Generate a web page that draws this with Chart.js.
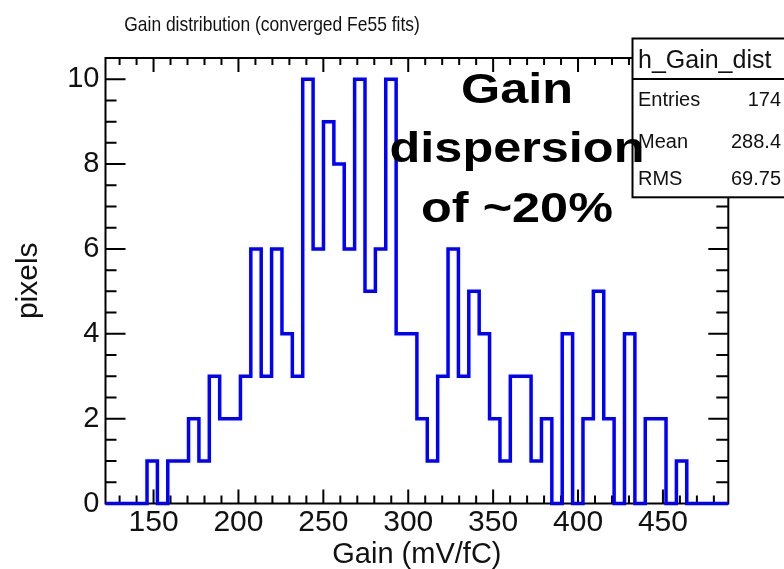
<!DOCTYPE html>
<html>
<head>
<meta charset="utf-8">
<script src="https://cdn.jsdelivr.net/npm/chart.js@4.4.0/dist/chart.umd.min.js"></script>
<style>
  html, body { margin: 0; padding: 0; background: #fff; }
  canvas { display: block; }
</style>
</head>
<body>
<canvas id="gainChart" width="784" height="569"></canvas>
<script>
// histogram h_Gain_dist, 60 bins
const xMin = 121.7;
const xMax = 488.5;
const binCounts = [
    0, 0, 0, 0, 1, 0, 1, 1, 2, 1,
    3, 2, 2, 3, 6, 3, 6, 4, 3, 10,
    6, 9, 8, 6, 10, 5, 6, 10, 4, 4,
    2, 1, 3, 6, 3, 5, 4, 2, 1, 3,
    3, 1, 2, 0, 4, 0, 2, 5, 2, 0,
    4, 0, 2, 2, 0, 1, 0, 0, 0, 0
];
const yMax = 10.5;
const xTickValues = [150, 200, 250, 300, 350, 400, 450];
const yTickValues = [0, 2, 4, 6, 8, 10];
const xMinorStep = 10;
const yMinorStep = 0.5;

const chartTitle = 'Gain distribution (converged Fe55 fits)';
const statsName = 'h_Gain_dist';
const statsLabels = ['Entries', 'Mean', 'RMS'];
const statsValues = ['174', '288.4', '69.75'];
const noteLines = ['Gain', 'dispersion', 'of ~20%'];

const binWidth = (xMax - xMin) / binCounts.length;
const histPoints = binCounts.map((c, i) => ({ x: xMin + i * binWidth, y: c }));
histPoints.push({ x: xMax, y: binCounts[binCounts.length - 1] });

const FONT = "'Liberation Sans', Arial, sans-serif";

// ROOT-like frame with inward ticks on all four sides
const rootFrame = {
    id: 'rootFrame',
    beforeDatasetsDraw(chart) {
        const { ctx, chartArea: a, scales: { x, y } } = chart;
        ctx.save();
        ctx.strokeStyle = '#000';
        ctx.lineWidth = 2;
        ctx.beginPath();
        const firstX = Math.ceil(x.min / xMinorStep) * xMinorStep;
        for (let v = firstX; v < x.max; v += xMinorStep) {
            const px = x.getPixelForValue(v);
            const major = xTickValues.includes(v);
            ctx.moveTo(px, a.bottom);
            ctx.lineTo(px, a.bottom - (major ? 14 : 8));
            ctx.moveTo(px, a.top);
            ctx.lineTo(px, a.top + (major ? 14 : 7));
        }
        for (let v = yMinorStep; v < y.max; v += yMinorStep) {
            const py = y.getPixelForValue(v);
            const major = yTickValues.includes(v);
            ctx.moveTo(a.left, py);
            ctx.lineTo(a.left + (major ? 20 : 11), py);
            ctx.moveTo(a.right, py);
            ctx.lineTo(a.right - (major ? 20 : 12), py);
        }
        ctx.stroke();
        ctx.strokeRect(a.left, a.top, a.right - a.left, a.bottom - a.top);
        ctx.restore();
    },
    afterDraw(chart) {
        const ctx = chart.ctx;
        ctx.save();
        // title, condensed like the original
        ctx.fillStyle = '#111';
        ctx.font = `21px ${FONT}`;
        ctx.textAlign = 'center';
        ctx.textBaseline = 'alphabetic';
        ctx.save();
        ctx.translate(272, 31);
        ctx.scale(0.83, 1);
        ctx.fillText(chartTitle, 0, 0);
        ctx.restore();

        // stats box
        ctx.fillStyle = '#fff';
        ctx.fillRect(632.5, 38.5, 170, 158.8);
        ctx.strokeStyle = '#000';
        ctx.lineWidth = 2;
        ctx.strokeRect(632.5, 38.5, 170, 158.8);
        ctx.beginPath();
        ctx.moveTo(632.5, 79);
        ctx.lineTo(800, 79);
        ctx.stroke();
        ctx.fillStyle = '#111';
        ctx.textAlign = 'left';
        ctx.font = `25px ${FONT}`;
        ctx.fillText(statsName, 638, 68);
        ctx.font = `20px ${FONT}`;
        const rowBase = [106, 148, 185];
        statsLabels.forEach((lab, i) => {
            ctx.textAlign = 'left';
            ctx.fillText(lab, 638, rowBase[i]);
            ctx.textAlign = 'right';
            ctx.fillText(statsValues[i], 781, rowBase[i]);
        });

        // big annotation
        ctx.fillStyle = '#000';
        ctx.font = `bold 42px ${FONT}`;
        ctx.textAlign = 'center';
        const noteBase = [103, 162, 222];
        noteLines.forEach((line, i) => {
            ctx.save();
            ctx.translate(517, noteBase[i]);
            ctx.scale(1.2, 1);
            ctx.fillText(line, 0, 0);
            ctx.restore();
        });
        ctx.restore();
    }
};

new Chart(document.getElementById('gainChart'), {
    type: 'line',
    data: {
        datasets: [{
            label: statsName,
            data: histPoints,
            stepped: 'before',
            borderColor: '#0000ff',
            borderWidth: 3.5,
            pointRadius: 0,
            fill: false,
            clip: 4
        }]
    },
    options: {
        responsive: false,
        animation: false,
        layout: { padding: { top: 58, right: 55.7, left: 0, bottom: 0 } },
        plugins: {
            legend: { display: false },
            tooltip: { enabled: false },
            title: { display: false }
        },
        scales: {
            x: {
                type: 'linear',
                min: xMin,
                max: xMax,
                afterBuildTicks: (scale) => { scale.ticks = xTickValues.map(v => ({ value: v })); },
                afterFit: (scale) => { scale.height = 65.5; },
                grid: { display: false, drawTicks: false },
                border: { display: false },
                ticks: {
                    color: '#111',
                    padding: 1,
                    maxRotation: 0,
                    autoSkip: false,
                    font: { family: FONT, size: 30 }
                },
                title: {
                    display: true,
                    text: 'Gain (mV/fC)',
                    color: '#111',
                    font: { family: FONT, size: 29 },
                    padding: { top: 0, bottom: -3 }
                }
            },
            y: {
                min: 0,
                max: yMax,
                afterBuildTicks: (scale) => { scale.ticks = yTickValues.map(v => ({ value: v })); },
                afterFit: (scale) => { scale.width = 105.5; },
                grid: { display: false, drawTicks: false },
                border: { display: false },
                ticks: {
                    color: '#111',
                    padding: 6,
                    autoSkip: false,
                    font: { family: FONT, size: 29 }
                },
                title: {
                    display: true,
                    text: 'pixels',
                    color: '#111',
                    font: { family: FONT, size: 30 },
                    padding: { top: 11, bottom: 0 }
                }
            }
        }
    },
    plugins: [rootFrame]
});
</script>
</body>
</html>
